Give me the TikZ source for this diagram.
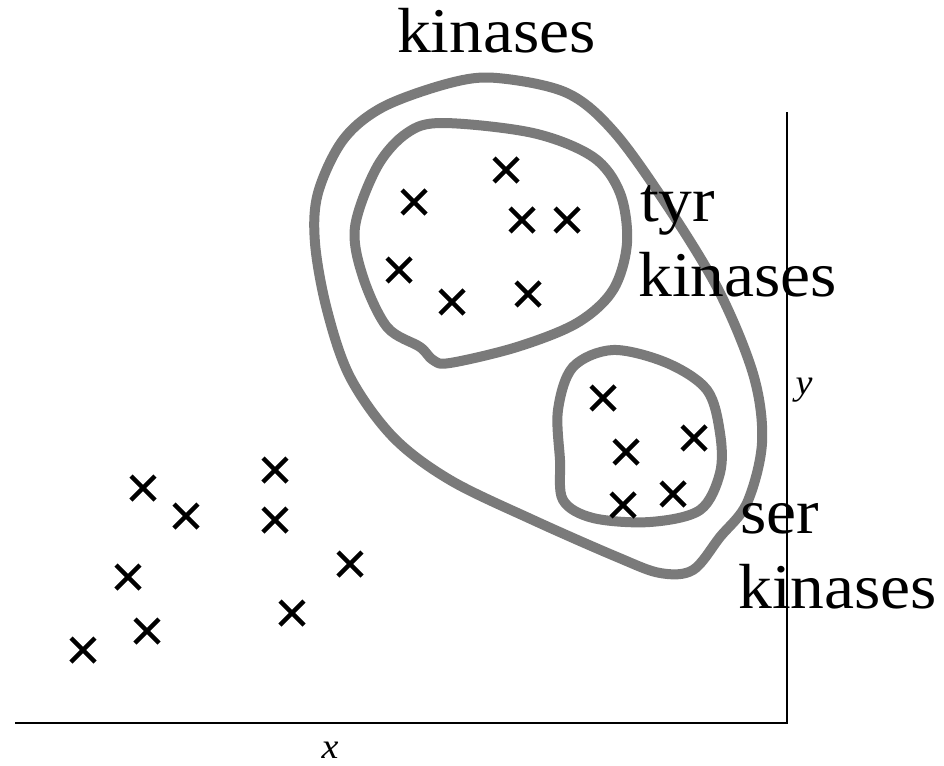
\documentclass[tikz,border=0pt]{standalone}
\usepackage{fontspec}
\setmainfont[FakeStretch=1.06]{Liberation Serif}
\begin{document}
\begin{tikzpicture}[x=1bp,y=-1bp,
  blob/.style={draw=black!52, line width=10bp, line join=round},
  axis/.style={draw=black, line width=1.6bp},
  crs/.style={line width=4.5bp},
  lbl/.style={inner sep=0pt, anchor=base west, font=\fontsize{64}{74}\selectfont},
  ax/.style={inner sep=0pt, font=\fontsize{36}{42}\selectfont\itshape}]
\useasboundingbox (0,0) rectangle (944,766);
% axes
\coordinate (o) at (787,723);
\coordinate (xe) at (15,723);
\coordinate (ye) at (787,112);
\draw[axis] (xe) -- (o) -- (ye);
\node[ax] (xl) at (330,750) {x};
\node[ax] (yl) at (804,390) {y};
% outer blob
\draw[blob] plot[smooth cycle, tension=0.55] coordinates {
 (497,78) (567,93) (615,133) (670,210) (720,293) (754,377) (762,443) (747,503)
 (720,537) (693,570) (660,573) (617,557) (533,520) (450,480) (393,437) (350,377)
 (327,310) (315,243) (318,193) (343,140) (383,107) (450,83)};
% tyr blob
\draw[blob] plot[smooth cycle, tension=0.55] coordinates {
 (443,123) (533,133) (593,157) (620,193) (627,243) (613,290) (577,323) (517,347)
 (450,363) (433,360) (420,347) (387,327) (363,277) (355,227) (377,167) (407,133)};
% ser blob
\draw[blob] plot[smooth cycle, tension=0.55] coordinates {
 (613,350) (667,363) (707,390) (720,433) (720,473) (700,510) (650,522) (593,518)
 (563,500) (560,460) (558,410) (573,367)};
% crosses
\foreach \p [count=\i] in {(414,202),(506,170),(522,220),(567,220),(399,270),(452,302),(528,294),
  (603,398),(626,452),(694,438),(623,505),(673,494),
  (143,488),(186,516),(275,470),(275,520),(128,577),(350,564),(147,631),(292,613),(83,650)}{
  \node[inner sep=0pt, minimum size=0pt] (c\i) at \p {};
  \draw[crs] ([shift={(-12,-12)}]c\i.center) -- ([shift={(12,12)}]c\i.center)
    ([shift={(-12,12)}]c\i.center) -- ([shift={(12,-12)}]c\i.center);
}
% labels
\node[lbl] (k0) at (397,53) {kinases};
\node[lbl] (t1) at (640,221) {tyr};
\node[lbl] (t2) at (638,296) {kinases};
\node[lbl] (s1) at (740,533) {ser};
\node[lbl] (s2) at (738,608) {kinases};
\end{tikzpicture}
\end{document}
